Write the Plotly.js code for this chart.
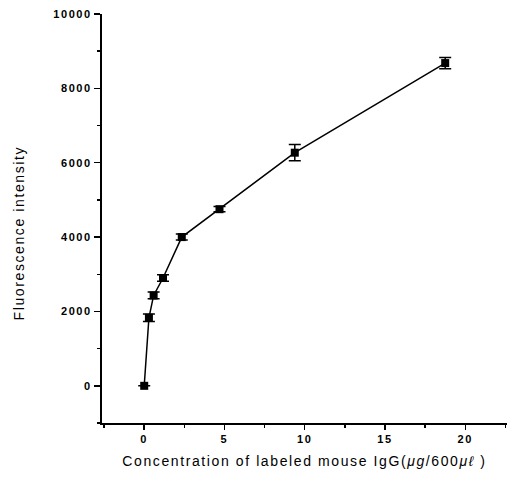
<!DOCTYPE html>
<html>
<head>
<meta charset="utf-8">
<script src="https://cdn.plot.ly/plotly-3.0.1.min.js"></script>
<style>
html,body{margin:0;padding:0;background:#fff;}
#chart{width:511px;height:481px;}
#chart .xtick text, #chart .ytick text{letter-spacing:1.6px;}
#chart .xtitle, #chart .annotation-text{letter-spacing:1.6px;}
</style>
</head>
<body>
<div id="chart"></div>
<script>
var concentration = [0, 0.293, 0.586, 1.17, 2.34, 4.69, 9.38, 18.75];
var intensity = [0, 1830, 2430, 2900, 4000, 4750, 6270, 8680];
var errorSD = [0, 100, 90, 90, 80, 70, 220, 150];
var xTickVals = [0, 5, 10, 15, 20];
var yTickVals = [0, 2000, 4000, 6000, 8000, 10000];
var yTickText = ['0', '2000', '4000', '6000', '8000', '10000'];
var xTitle = 'Concentration of labeled mouse IgG(<i>μg</i>/600<i>μℓ</i> )';
var yTitle = 'Fluorescence intensity';

var trace = {
  x: concentration, y: intensity, type: 'scatter', mode: 'lines+markers',
  line: {color: '#000', width: 1.5},
  marker: {symbol: 'square', size: 8, color: '#000'},
  error_y: {type: 'data', array: errorSD, visible: true, color: '#000', thickness: 1.5, width: 6},
  showlegend: false
};
var fam = 'Liberation Sans, Arial, sans-serif';
var layout = {
  width: 511, height: 481,
  margin: {l: 102, r: 4, t: 14, b: 58},
  paper_bgcolor: '#fff', plot_bgcolor: '#fff',
  font: {family: fam, color: '#000'},
  xaxis: {
    range: [-2.63, 22.6], tickvals: xTickVals,
    showgrid: false, zeroline: false, showline: true, linecolor: '#000', linewidth: 2,
    ticks: 'outside', ticklen: 5, tickwidth: 1.5, tickcolor: '#000',
    minor: {dtick: 2.5, tick0: 0, ticks: 'outside', ticklen: 3, tickcolor: '#000', showgrid: false},
    tickfont: {size: 11, family: fam, color: '#000', weight: 'bold'},
    title: {text: xTitle, font: {size: 14, family: fam, color: '#000'}, standoff: 12}
  },
  yaxis: {
    range: [-1000, 10000], tickvals: yTickVals, ticktext: yTickText,
    showgrid: false, zeroline: false, showline: true, linecolor: '#000', linewidth: 2,
    ticks: 'outside', ticklen: 6, tickwidth: 1.5, tickcolor: '#000',
    minor: {dtick: 1000, tick0: 0, ticks: 'outside', ticklen: 3, tickcolor: '#000', showgrid: false},
    tickfont: {size: 11, family: fam, color: '#000', weight: 'bold'}
  },
  annotations: [{
    text: yTitle, xref: 'paper', yref: 'paper', x: -0.205, y: 0.465,
    xanchor: 'center', yanchor: 'middle', textangle: -90, showarrow: false,
    font: {size: 14, family: fam, color: '#000'}
  }]
};
Plotly.newPlot('chart', [trace], layout, {displayModeBar: false, staticPlot: true});
</script>
</body>
</html>
